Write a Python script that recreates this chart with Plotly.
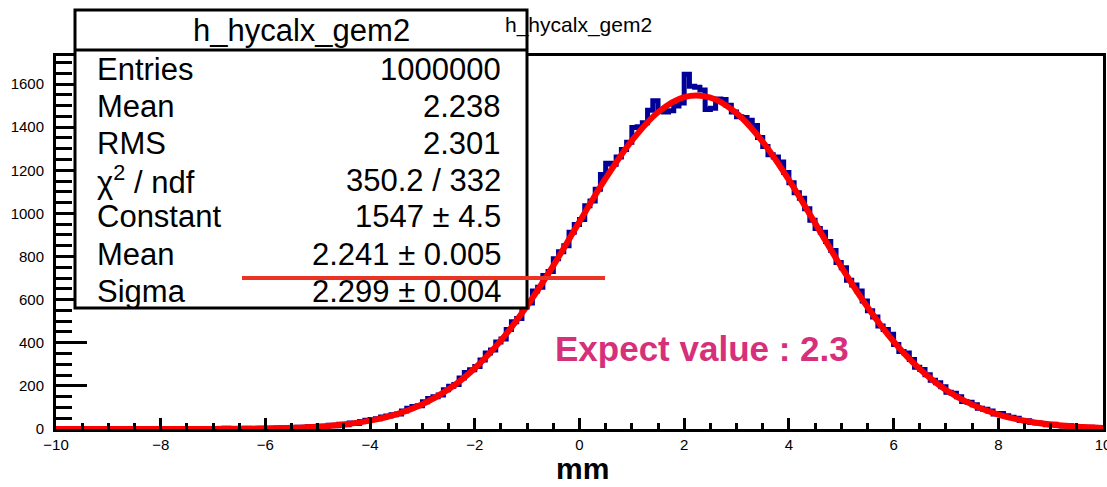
import numpy as np
import plotly.graph_objects as go

# ---------------- data ----------------
x_min, x_max = -10.0, 10.0
counts = [
    0, 1, 0, 0, 1, 0, 0, 2, 0, 1, 0, 1, 0, 0, 1, 2, 0, 1, 1, 0, 2, 1, 0, 1, 2, 1, 0, 2,
    1, 2, 1, 0, 3, 1, 2, 1, 3, 2, 1, 4, 3, 2, 5, 6, 4, 7, 8, 6, 10, 9, 13,
    12, 17, 15, 22, 20, 28, 26, 35, 41, 44,
    48, 56, 60, 66, 70, 84, 96, 104, 108, 126,
    141, 150, 158, 182, 198, 206, 236, 262, 275, 290,
    320, 352, 366, 404, 418, 462, 498, 512, 566, 584,
    640, 658, 712, 730, 790, 822, 850, 912, 948,
    972, 1036, 1058, 1112, 1180, 1232, 1228, 1262, 1296, 1330, 1398,
    1402, 1420, 1478, 1522, 1482, 1470, 1476, 1498, 1512, 1645, 1590,
    1585, 1572, 1482, 1488, 1530, 1528, 1502, 1470, 1448, 1445,
    1432, 1408, 1352, 1310, 1272, 1262, 1238, 1190, 1142, 1096,
    1070, 1022, 968, 930, 912, 870, 828, 772, 748, 690,
    668, 640, 594, 548, 520, 478, 462, 440, 392, 360,
    352, 322, 286, 276, 252, 226, 214, 196, 170, 166,
    150, 128, 124, 112, 96, 92, 84, 70, 72, 62,
    54, 50, 40, 38, 30, 28, 26, 20, 22, 16,
    14, 15, 10, 11, 7, 8, 5, 6,
]
# fitted gaussian, sampled every 0.5 mm from -10 to 10
fit_values = [
    0.0, 0.0, 0.01, 0.03, 0.08, 0.2, 0.5, 1.1, 2.5, 5.3, 10.8, 21, 39, 68, 115,
    184, 282, 411, 572, 758, 962, 1162, 1337, 1469, 1539, 1537, 1465, 1332,
    1155, 955, 752, 566, 406, 278, 181, 113, 67, 38, 20.5, 10.6, 5.2,
]
y_top = 1730

hist_title = "h_hycalx_gem2"
stats_labels = ["Entries", "Mean", "RMS", "χ<sup>2</sup> / ndf", "Constant", "Mean", "Sigma"]
stats_values = ["1000000", "2.238", "2.301", "350.2 / 332", "1547 ± 4.5",
                "2.241 ± 0.005", "2.299 ± 0.004"]
x_title = "mm"
note_text = "Expect value : 2.3"

# ---------------- layout helpers ----------------
W, H = 1107, 487
L, R, T, B = 56, 4, 56, 58
FONT = "Liberation Sans, Arial, Helvetica, sans-serif"


def px(xp):
    return (xp - L) / (W - L - R)


def py(yp):
    return (H - B - yp) / (H - T - B)


edges = np.linspace(x_min, x_max, len(counts) + 1)
fit_x = np.linspace(x_min, x_max, len(fit_values))

fig = go.Figure()
fig.add_trace(go.Scatter(
    x=edges, y=list(counts) + [counts[-1]], mode="lines",
    line=dict(color="#000099", width=5, shape="hv"), hoverinfo="skip",
))
fig.add_trace(go.Scatter(
    x=fit_x, y=fit_values, mode="lines",
    line=dict(color="#ff0000", width=6, shape="spline"), hoverinfo="skip",
))

axis_common = dict(showline=True, linecolor="black", linewidth=3, mirror=True,
                   showgrid=False, zeroline=False, ticks="inside", automargin=False,
                   tickcolor="black", tickwidth=3, ticklabeloverflow="allow",
                   tickfont=dict(family=FONT, size=15, color="black"))
fig.update_xaxes(range=[x_min, x_max], dtick=2, tick0=-10, ticklen=11,
                 minor=dict(dtick=0.5, ticklen=6, ticks="inside", tickwidth=3, tickcolor="black"),
                 **axis_common)
fig.update_yaxes(range=[0, y_top], dtick=200, ticklen=31, ticklabelstandoff=6,
                 minor=dict(dtick=50, ticklen=16, ticks="inside", tickwidth=3, tickcolor="black"),
                 **axis_common)

shapes = []
# stats box
bx0, bx1, by0, by1, bsep = 75, 527, 10, 308, 50
shapes.append(dict(type="rect", xref="paper", yref="paper", x0=px(bx0), x1=px(bx1),
                   y0=py(by1), y1=py(by0), line=dict(color="black", width=3),
                   fillcolor="white", layer="above"))
shapes.append(dict(type="line", xref="paper", yref="paper", x0=px(bx0), x1=px(bx1),
                   y0=py(bsep), y1=py(bsep), line=dict(color="black", width=3), layer="above"))
# red annotation line
shapes.append(dict(type="line", xref="paper", yref="paper", x0=px(242), x1=px(605),
                   y0=py(278), y1=py(278), line=dict(color="#ea3323", width=4), layer="above"))

ann = []
ann.append(dict(text=hist_title, xref="paper", yref="paper", x=px(578), y=py(25),
                xanchor="center", yanchor="middle", showarrow=False,
                font=dict(family=FONT, size=21, color="black")))
ann.append(dict(text=hist_title, xref="paper", yref="paper", x=px((bx0 + bx1) / 2), y=py(31),
                xanchor="center", yanchor="middle", showarrow=False,
                font=dict(family=FONT, size=31, color="black")))
row_y = [69, 106, 143, 180, 217, 254, 291]
for lab, val, yy in zip(stats_labels, stats_values, row_y):
    ann.append(dict(text=lab, xref="paper", yref="paper", x=px(95), y=py(yy),
                    xanchor="left", yanchor="middle", showarrow=False,
                    font=dict(family=FONT, size=31, color="black")))
    ann.append(dict(text=val, xref="paper", yref="paper", x=px(503), y=py(yy),
                    xanchor="right", yanchor="middle", showarrow=False,
                    font=dict(family=FONT, size=31, color="black")))
ann.append(dict(text="<b>" + note_text + "</b>", xref="paper", yref="paper", x=px(553), y=py(348),
                xanchor="left", yanchor="middle", showarrow=False,
                font=dict(family=FONT, size=35, color="#d6307a")))
ann.append(dict(text="<b>" + x_title + "</b>", xref="paper", yref="paper", x=px(582), y=py(468),
                xanchor="center", yanchor="middle", showarrow=False,
                font=dict(family=FONT, size=30, color="black")))

fig.update_layout(
    width=W, height=H, margin=dict(l=L, r=R, t=T, b=B, autoexpand=False),
    paper_bgcolor="white", plot_bgcolor="white", showlegend=False,
    shapes=shapes, annotations=ann,
)
fig.write_html("out.html")
